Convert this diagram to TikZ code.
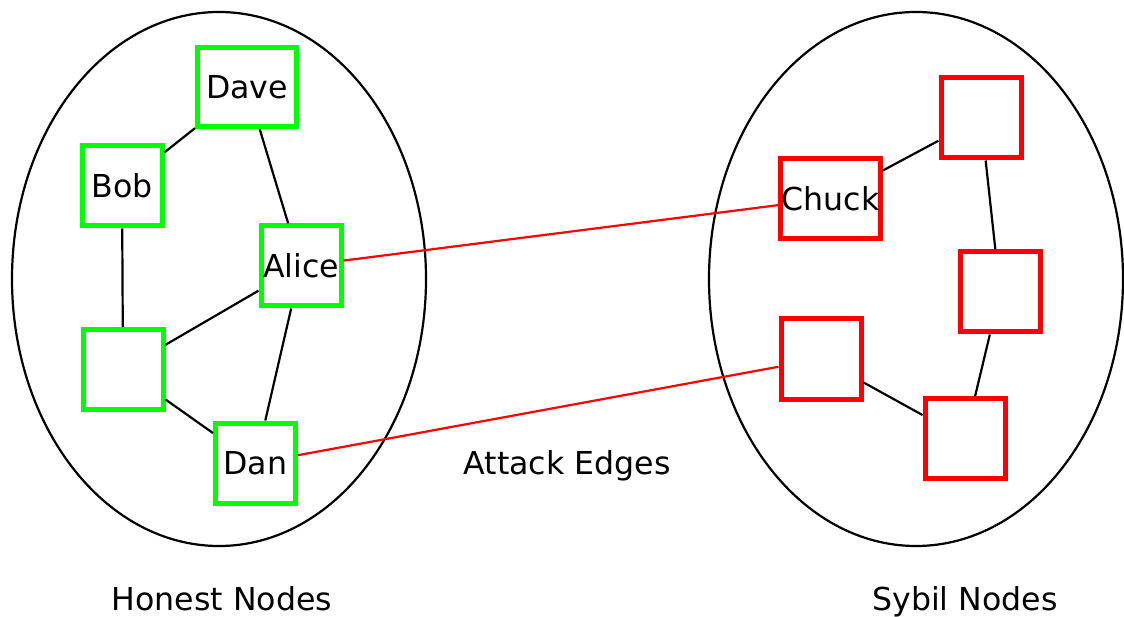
\documentclass[tikz,border=0pt]{standalone}
\usepackage{fontspec}
\setmainfont{DejaVu Sans}
\definecolor{honest}{RGB}{0,255,0}
\definecolor{sybil}{RGB}{255,0,0}
\begin{document}
\begin{tikzpicture}[x=1pt,y=-1pt,
  every node/.style={font=\fontsize{31.6}{38}\selectfont},
  box/.style={draw,rectangle,line width=5pt,minimum width=80pt,minimum height=80pt,inner sep=1pt,fill=white},
  hbox/.style={box,draw=honest},
  sbox/.style={box,draw=sybil},
  lbl/.style={anchor=base,inner sep=0pt},
  link/.style={line width=2.2pt,black},
  attack/.style={line width=2.2pt,sybil},
  region/.style={line width=2.2pt,black}]
\useasboundingbox (0,0) rectangle (1124,617);
% the two regions
\draw[region] (219,279) ellipse [x radius=207pt, y radius=267pt];
\draw[region] (916,279) ellipse [x radius=207pt, y radius=267pt];
% honest nodes
\node[hbox,minimum width=99pt,minimum height=79pt] (dave) at (247,87) {Dave};
\node[hbox] (bob) at (122,186) {Bob};
\node[hbox] (alice) at (301,266) {Alice};
\node[hbox] (h4) at (123,369.5) {};
\node[hbox] (dan) at (255.5,463) {Dan};
% sybil nodes
\node[sbox] (s1) at (981,118) {};
\node[sbox,minimum width=98pt] (chuck) at (830.5,198.5) {Chuck};
\node[sbox] (s3) at (1000,292) {};
\node[sbox] (s4) at (821,359) {};
\node[sbox] (s5) at (965,438.5) {};
% honest edges
\draw[link] (bob) -- (dave);
\draw[link] (dave) -- (alice);
\draw[link] (bob) -- (h4);
\draw[link] (h4) -- (alice);
\draw[link] (alice) -- (dan);
\draw[link] (h4) -- (dan);
% sybil edges
\draw[link] (chuck) -- (s1);
\draw[link] (s1) -- (s3);
\draw[link] (s3) -- (s5);
\draw[link] (s4) -- (s5);
% attack edges
\draw[attack] (alice) -- (chuck);
\draw[attack] (dan) -- (s4);
% labels
\node[lbl] (honestlbl) at (222,610) {Honest Nodes};
\node[lbl] (sybillbl) at (965,610) {Sybil Nodes};
\node[lbl] (attacklbl) at (567,474) {Attack Edges};
\end{tikzpicture}
\end{document}
